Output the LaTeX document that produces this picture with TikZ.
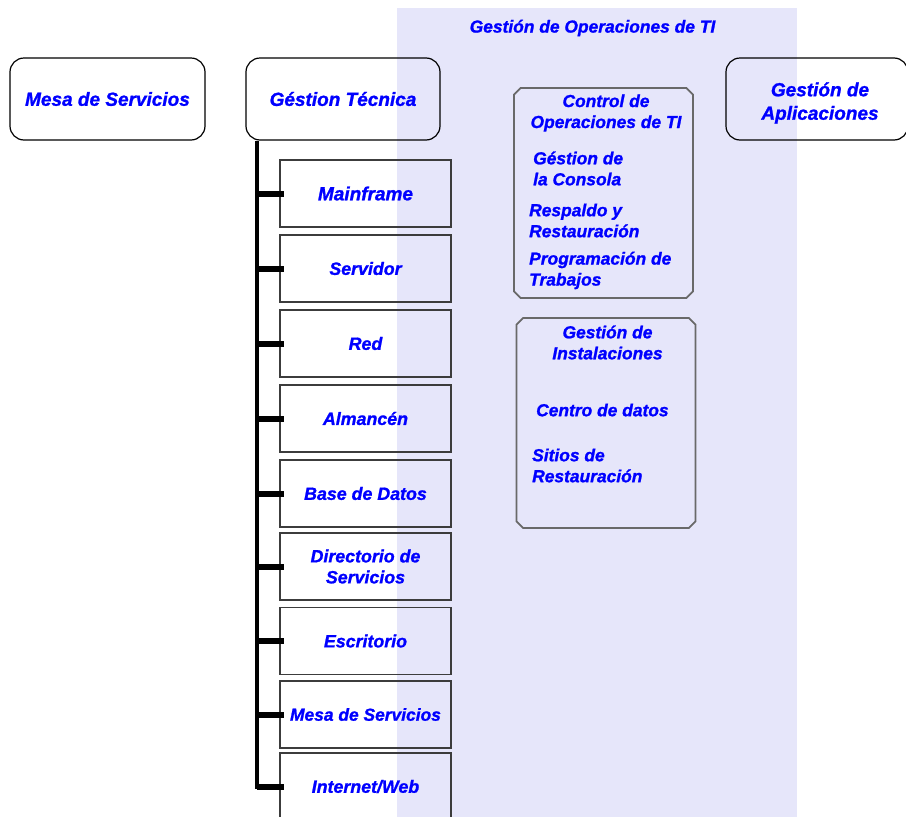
\documentclass[tikz,border=0pt]{standalone}
\usepackage{fontspec}
\setmainfont{Liberation Sans}[BoldItalicFeatures={FakeBold=1.2}]
\usetikzlibrary{shapes.misc}
\definecolor{opsbg}{RGB}{230,230,250}
\definecolor{txtblue}{RGB}{0,0,255}
\definecolor{boxgray}{RGB}{60,60,60}
\definecolor{chamgray}{RGB}{105,105,105}
\newcommand{\lblfont}[2]{\bfseries\itshape\fontsize{#1}{#2}\selectfont}
\begin{document}
\begin{tikzpicture}[x=1pt,y=-1pt,
  lbl/.style={text=txtblue,font=\lblfont{17.4}{21},inner sep=0pt},
  hdrbox/.style={draw=black,line width=1.2pt,rounded corners=14pt,
    minimum width=#1,minimum height=82pt,text=txtblue,align=center},
  itembox/.style={draw=boxgray,line width=1.4pt,minimum width=171pt,
    minimum height=67pt,text=txtblue,font=\lblfont{17.8}{21},align=center},
  groupbox/.style={draw=chamgray,line width=1.8pt,chamfered rectangle,
    chamfered rectangle xsep=10pt,chamfered rectangle ysep=10pt,
    minimum width=179pt,minimum height=210pt},
  spine/.style={line width=4pt,black},
  tick/.style={line width=6pt,black}]

\clip (0,0) rectangle (906,817);

% operations area
\fill[opsbg] (397,8) rectangle (797,817);
\node[lbl] (opstitle) at (592.5,28) {Gestión de Operaciones de TI};

% top-level functions
\node[hdrbox=195pt,font=\lblfont{19}{23}] (sd) at (107.5,99) {Mesa de Servicios};
\node[hdrbox=194pt,font=\lblfont{19}{23}] (gt) at (343,99) {Géstion Técnica};
\node[hdrbox=182pt] (ga) at (817,99) {};
\node[lbl,font=\lblfont{19}{23.5},align=center] (galbl) at (820,103) {Gestión de\\Aplicaciones};

% technical management areas
\node[itembox,font=\lblfont{19}{21}] (mf)  at (365.5,193.5) {Mainframe};
\node[itembox] (sv)  at (365.5,268.5) {Servidor};
\node[itembox] (red) at (365.5,343.5) {Red};
\node[itembox] (alm) at (365.5,418.5) {Almancén};
\node[itembox] (bd)  at (365.5,493.5) {Base de Datos};
\node[itembox] (dir) at (365.5,566.5) {Directorio de\\Servicios};
\node[itembox] (esc) at (365.5,641)   {Escritorio};
\node[itembox,font=\lblfont{17.4}{21}] (msd) at (365.5,714.5) {Mesa de Servicios};
\node[itembox] (web) at (365.5,786.5) {Internet/Web};

% spine and branches
\coordinate (spinetop) at ([xshift=12pt]gt.south west);
\draw[spine] (spinetop) |- ([xshift=5pt]web.west);
\foreach \n in {mf,sv,red,alm,bd,dir,esc,msd,web}
  \draw[tick] (spinetop |- \n.west) -- ([xshift=5pt]\n.west);

% IT operations control
\node[groupbox] (ctl) at (603.5,193) {};
\node[lbl,align=center] (ctlhead) at (606,113) {Control de\\Operaciones de TI};
\node[lbl,align=left,anchor=west] (consola) at (533,168.5) {Géstion de\\la Consola};
\node[lbl,align=left,anchor=west] (respaldo) at (529,220.5) {Respaldo y\\Restauración};
\node[lbl,align=left,anchor=west] (prog) at (529,270.5) {Programación de\\Trabajos};

% facilities management
\node[groupbox] (fac) at (606,423) {};
\node[lbl,align=center] (fachead) at (607.5,342.5) {Gestión de\\Instalaciones};
\node[lbl,anchor=west] (cpd) at (536,410) {Centro de datos};
\node[lbl,align=left,anchor=west] (sitios) at (532,465.5) {Sitios de\\Restauración};

\end{tikzpicture}
\end{document}
